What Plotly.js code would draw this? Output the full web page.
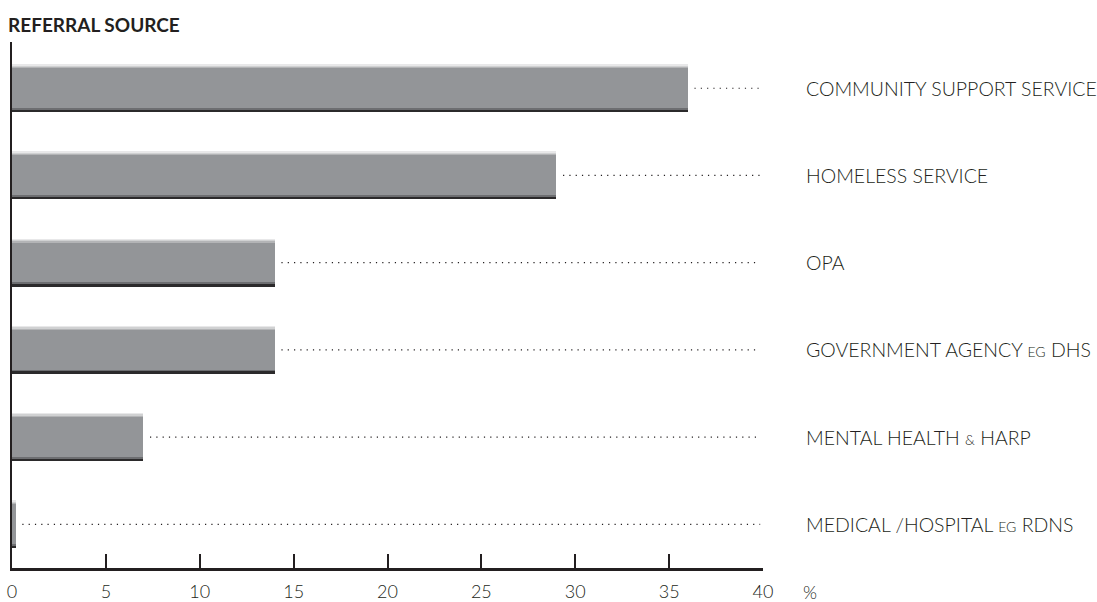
<!DOCTYPE html>
<html>
<head>
<meta charset="utf-8">
<script src="https://cdn.plot.ly/plotly-3.0.1.min.js"></script>
<style>html,body{margin:0;padding:0;background:#fff;}#chart{width:1097px;height:602px;}</style>
</head>
<body>
<div id="chart"></div>
<script>
var categories = ["COMMUNITY SUPPORT SERVICE", "HOMELESS SERVICE", "OPA", "GOVERNMENT AGENCY eg DHS", "MENTAL HEALTH & HARP", "MEDICAL /HOSPITAL eg RDNS"];
var labelHtml = ["COMMUNITY SUPPORT SERVICE", "HOMELESS SERVICE", "OPA", "GOVERNMENT AGENCY <span style=\"font-size:14px\">EG</span> DHS", "MENTAL HEALTH <span style=\"font-size:14px\">&amp;</span> HARP", "MEDICAL /HOSPITAL <span style=\"font-size:14px\">EG</span> RDNS"];
var values = [36, 29, 14, 14, 7, 0.2];
var tickVals = [0, 5, 10, 15, 20, 25, 30, 35, 40];
var tickText = ["0", "5", "10", "15", "20", "25", "30", "35", "40"];

var FONT = "Lato, 'Open Sans', sans-serif";
var barW = 0.55;
function strip(color, off, w) {
  return {type: "bar", orientation: "h", x: values, y: categories, width: w, offset: off,
    marker: {color: color, line: {width: 0}}, hoverinfo: "skip", showlegend: false};
}
var traces = [
  strip("#939598", -barW/2, barW),
  strip("#e8e8e9", -barW/2, 0.015),
  strip("#d0d1d2", -barW/2 + 0.015, 0.015),
  strip("#b3b4b6", -barW/2 + 0.03, 0.015),
  strip("#6d6e71", barW/2 - 0.05, 0.02),
  strip("#2b2a2b", barW/2 - 0.03, 0.03)
];
var dx = [], dy = [];
for (var i = 0; i < categories.length; i++) {
  dx.push(values[i] + 0.35, 39.85, null);
  dy.push(categories[i], categories[i], null);
}
traces.push({type: "scatter", mode: "lines", x: dx, y: dy, line: {color: "#231f20", width: 1.2, dash: "1.2px,5.1px"}, hoverinfo: "skip", showlegend: false});

var annotations = categories.map(function (c, i) {
  return {x: 1.0546, y: c, xref: "paper", yref: "y", text: labelHtml[i], showarrow: false, xanchor: "left", yanchor: "middle",
    font: {family: FONT, size: 19.5, color: "#231f20", weight: 300}};
});
annotations.push({x: -0.0075, y: 1, yshift: 18, xref: "paper", yref: "paper", yanchor: "middle", xanchor: "left", text: "<b>REFERRAL SOURCE</b>", showarrow: false, font: {family: FONT, size: 19, color: "#231f20"}});
annotations.push({x: 1.0506, y: 0, xref: "paper", yref: "paper", yshift: -24, text: "%", showarrow: false, xanchor: "left", yanchor: "middle", font: {family: FONT, size: 18, color: "#231f20", weight: 300}});

var layout = {
  width: 1097, height: 602,
  margin: {l: 12, r: 334, t: 42, b: 34},
  paper_bgcolor: "#fff", plot_bgcolor: "#fff",
  barmode: "overlay",
  bargap: 0,
  showlegend: false,
  xaxis: {range: [0, 40], tickvals: tickVals, ticktext: tickText, ticks: "inside", ticklen: 14, tickwidth: 2, tickcolor: "#231f20",
    showline: true, linewidth: 2.5, linecolor: "#231f20", showgrid: false, zeroline: false, fixedrange: true,
    tickfont: {family: FONT, size: 18, color: "#231f20", weight: 300}, ticklabelstandoff: 6},
  yaxis: {type: "category", categoryarray: categories, range: [5.5, -0.53], showticklabels: false, ticks: "",
    showline: true, linewidth: 2.5, linecolor: "#231f20", showgrid: false, zeroline: false, fixedrange: true},
  annotations: annotations
};
Plotly.newPlot("chart", traces, layout, {displayModeBar: false, staticPlot: true});
</script>
</body>
</html>
